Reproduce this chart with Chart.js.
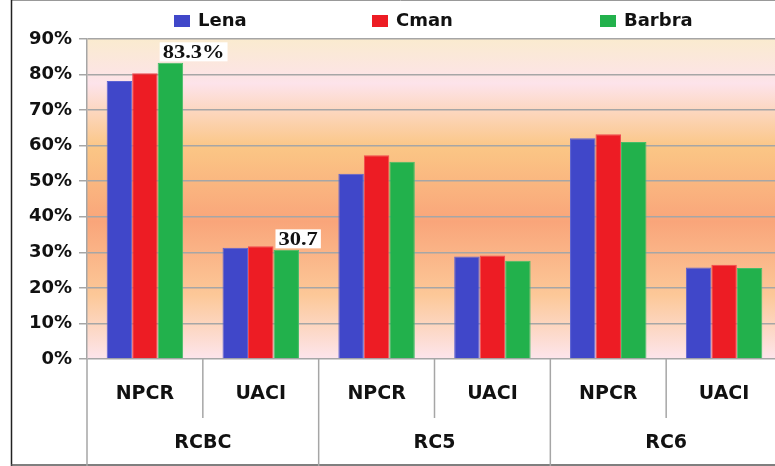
<!DOCTYPE html>
<html>
<head>
<meta charset="utf-8">
<script src="https://cdn.jsdelivr.net/npm/chart.js@4.4.1/dist/chart.umd.min.js"></script>
<style>
	html, body { margin: 0; padding: 0; background: #fff; overflow: hidden; }
	#wrap { width: 775px; height: 466px; overflow: hidden; }
</style>
</head>
<body>
<div id="wrap"><canvas id="myChart" width="790" height="466"></canvas></div>
<script>
"use strict";

const categories = ["NPCR", "UACI", "NPCR", "UACI", "NPCR", "UACI"];
const groups = ["RCBC", "RC5", "RC6"];
const lena = [78.2, 31.3, 52.1, 28.8, 62.1, 25.7];
const cman = [80.4, 31.7, 57.3, 29.1, 63.2, 26.5];
const barbra = [83.3, 30.7, 55.5, 27.6, 61.0, 25.6];
const barbraNotes = ["83.3%", "30.7", "", "", "", ""];
const seriesNames = ["Lena", "Cman", "Barbra"];
const yMin = 0;
const yMax = 90;
const yStep = 10;

const colors = ["#4047c9", "#ed1c24", "#22b14c"];
const borders = ["#5c62d2", "#f04a50", "#45bd68"];
const legendX = [174, 372, 600];
const boldFont = "'DejaVu Sans', sans-serif";

const frame = {
	id: "frame",
	beforeDraw(chart) {
		const { ctx, chartArea } = chart;
		ctx.save();
		ctx.fillStyle = "#fff";
		ctx.fillRect(0, 0, chart.width, chart.height);

		// plot area gradient
		const g = ctx.createLinearGradient(0, chartArea.top, 0, chartArea.bottom);
		g.addColorStop(0, "#faebcf");
		g.addColorStop(0.14, "#fde3ea");
		g.addColorStop(0.34, "#fbc685");
		g.addColorStop(0.57, "#f9a57a");
		g.addColorStop(0.8, "#fcc898");
		g.addColorStop(1, "#fde5ec");
		ctx.fillStyle = g;
		ctx.fillRect(chartArea.left, chartArea.top, chartArea.right - chartArea.left, chartArea.bottom - chartArea.top);

		// outer frame
		ctx.strokeStyle = "#999";
		ctx.lineWidth = 1;
		ctx.beginPath();
		ctx.moveTo(11, 0.5);
		ctx.lineTo(chart.width, 0.5);
		ctx.stroke();
		ctx.strokeStyle = "#222";
		ctx.lineWidth = 1.5;
		ctx.beginPath();
		ctx.moveTo(11.5, 0);
		ctx.lineTo(11.5, chart.height);
		ctx.stroke();
		ctx.strokeStyle = "#555";
		ctx.beginPath();
		ctx.moveTo(11, 465);
		ctx.lineTo(chart.width, 465);
		ctx.stroke();
		ctx.restore();
	},
	afterDraw(chart) {
		const { ctx, chartArea } = chart;
		const x = chart.scales.x;
		const half = (x.getPixelForValue(1) - x.getPixelForValue(0)) / 2;
		ctx.save();

		// category separators under the axis
		ctx.strokeStyle = "#a6a6a6";
		ctx.lineWidth = 1.5;
		for (let i = 0; i <= categories.length; i++) {
			const px = x.getPixelForValue(0) - half + i * half * 2;
			ctx.beginPath();
			ctx.moveTo(px, chartArea.bottom);
			ctx.lineTo(px, i % 2 === 0 ? chart.height : chartArea.bottom + 59);
			ctx.stroke();
		}

		// group labels
		ctx.fillStyle = "#111";
		ctx.font = "bold 19px " + boldFont;
		ctx.textAlign = "center";
		ctx.textBaseline = "middle";
		groups.forEach(function (name, i) {
			const px = (x.getPixelForValue(i * 2) + x.getPixelForValue(i * 2 + 1)) / 2;
			ctx.fillText(name, px, 443);
		});

		// legend
		ctx.font = "bold 18px " + boldFont;
		ctx.textAlign = "left";
		chart.data.datasets.forEach(function (ds, i) {
			ctx.fillStyle = ds.backgroundColor;
			ctx.fillRect(legendX[i], 15, 16, 12);
			ctx.fillStyle = "#111";
			ctx.fillText(ds.label, legendX[i] + 24, 21);
		});
		ctx.restore();
	},
	afterDatasetsDraw(chart) {
		const { ctx } = chart;
		const meta = chart.getDatasetMeta(2);
		ctx.save();
		ctx.font = "bold 18px 'Liberation Serif', serif";
		ctx.textBaseline = "alphabetic";
		barbraNotes.forEach(function (note, i) {
			if (!note) return;
			const bar = meta.data[i];
			const left = bar.x - bar.width / 2 + 2;
			const w = ctx.measureText(note).width * 1.25 + 6;
			const bottom = bar.y - 1.5;
			ctx.fillStyle = "#fff";
			ctx.fillRect(left, bottom - 19, w, 19);
			ctx.fillStyle = "#111";
			ctx.save();
			ctx.translate(left + 3, bottom - 3);
			ctx.scale(1.25, 1);
			ctx.fillText(note, 0, 0);
			ctx.restore();
		});
		ctx.restore();
	}
};

function makeDataset(i, values) {
	return {
		label: seriesNames[i],
		data: values,
		backgroundColor: colors[i],
		borderColor: borders[i],
		borderWidth: 1,
		categoryPercentage: 0.66,
		barPercentage: 1.0,
	};
}

function generateChart() {
	const ctx = document.getElementById("myChart");

	new Chart(ctx, {
		type: "bar",
		data: {
			labels: categories,
			datasets: [
				makeDataset(0, lena),
				makeDataset(1, cman),
				makeDataset(2, barbra),
			],
		},
		plugins: [frame],
		options: {
			responsive: false,
			animation: false,
			layout: {
				padding: { top: 39, right: 8, left: 0, bottom: 0 },
			},
			plugins: {
				legend: { display: false },
				tooltip: { enabled: false },
			},
			scales: {
				x: {
					grid: { display: false, drawTicks: false },
					border: { display: false },
					ticks: {
						color: "#111",
						padding: 24,
						maxRotation: 0,
						font: { family: boldFont, size: 19, weight: "bold" },
					},
					afterFit(scale) {
						scale.height = 107;
					},
				},
				y: {
					min: yMin,
					max: yMax,
					grid: {
						color: "#a6a6a6",
						lineWidth: 1.5,
						tickLength: 8,
					},
					border: { color: "#a6a6a6", width: 1.5 },
					ticks: {
						stepSize: yStep,
						color: "#111",
						padding: 7,
						font: { family: boldFont, size: 18, weight: "bold" },
						callback: function (v) {
							return v + "%";
						},
					},
					afterFit(scale) {
						scale.width = 87;
					},
				},
			},
		},
	});
}

generateChart();
</script>
</body>
</html>
